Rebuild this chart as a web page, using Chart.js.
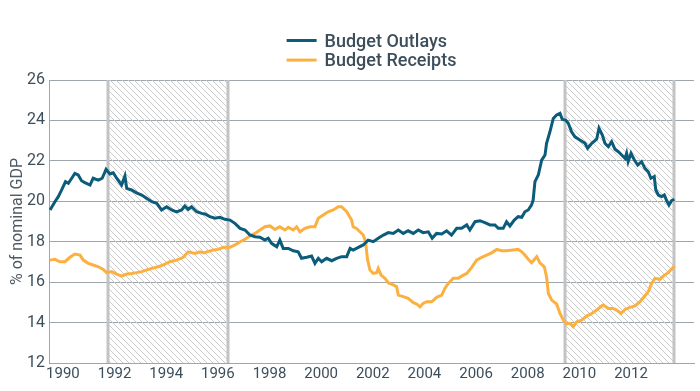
<!DOCTYPE html>
<html><head><meta charset="utf-8">
<script src="https://cdn.jsdelivr.net/npm/chart.js@4.4.1/dist/chart.umd.min.js"></script>
<style>html,body{margin:0;padding:0;background:#fff;}canvas{display:block;}</style>
</head><body>
<canvas id="c" width="700" height="391"></canvas>
<script>
// ---- data (decimal years, % of nominal GDP) ----
const seriesNames = ['Budget Outlays', 'Budget Receipts'];

const outlaysX = [1989.50,1989.69,1989.82,1989.95,1990.10,1990.21,1990.34,1990.46,1990.59,1990.72,1990.85,1991.05,1991.17,1991.37,1991.52,1991.67,1991.82,1991.95,1992.08,1992.27,1992.40,1992.47,1992.66,1992.85,1993.05,1993.24,1993.44,1993.63,1993.82,1994.02,1994.21,1994.40,1994.60,1994.72,1994.85,1994.98,1995.18,1995.37,
 1995.50,1995.69,1995.89,1996.08,1996.27,1996.47,1996.66,1996.86,1997.05,1997.24,1997.44,1997.63,1997.82,1997.95,1998.08,1998.28,1998.40,1998.53,1998.73,1998.92,1999.11,1999.24,1999.44,1999.63,1999.76,1999.89,2000.02,2000.21,2000.41,2000.60,2000.79,2000.99,2001.12,2001.24,2001.44,
 2001.63,2001.82,2002.02,2002.21,2002.41,2002.60,2002.79,2002.99,2003.18,2003.37,2003.57,2003.76,2003.95,2004.15,2004.30,2004.47,2004.67,2004.86,2005.05,2005.25,2005.44,2005.64,2005.76,2005.96,2006.15,2006.34,2006.54,2006.73,2006.86,2007.05,2007.18,2007.31,2007.48,
 2007.63,2007.77,2007.89,2008.02,2008.15,2008.21,2008.28,2008.41,2008.54,2008.67,2008.73,2008.86,2008.99,2009.12,2009.25,2009.34,2009.47,2009.57,2009.70,2009.83,2010.02,2010.22,2010.32,2010.48,2010.67,2010.76,2010.89,
 2010.99,2011.12,2011.25,2011.38,2011.51,2011.64,2011.77,2011.83,2011.89,2012.00,2012.13,2012.26,2012.41,2012.54,2012.67,2012.77,2012.90,2012.96,2013.06,2013.19,2013.29,2013.38,2013.47,2013.57,2013.68];
const outlaysY = [19.57,19.98,20.23,20.56,20.97,20.89,21.14,21.38,21.30,21.02,20.92,20.80,21.14,21.05,21.14,21.58,21.35,21.41,21.14,20.80,21.25,20.64,20.56,20.42,20.31,20.15,19.98,19.90,19.57,19.73,19.57,19.48,19.57,19.77,19.60,19.73,19.48,19.40,
 19.37,19.24,19.16,19.21,19.11,19.07,18.91,18.66,18.58,18.33,18.25,18.22,18.08,18.17,17.92,17.75,18.08,17.67,17.67,17.55,17.50,17.18,17.23,17.29,16.93,17.18,17.01,17.18,17.06,17.18,17.26,17.26,17.67,17.59,17.72,
 17.84,18.08,18.00,18.17,18.33,18.45,18.41,18.58,18.41,18.54,18.41,18.58,18.45,18.49,18.17,18.41,18.38,18.54,18.33,18.66,18.66,18.83,18.58,18.99,19.04,18.94,18.83,18.83,18.66,18.66,18.99,18.78,19.07,
 19.24,19.21,19.48,19.57,19.82,20.06,20.97,21.30,22.04,22.29,22.87,23.44,24.10,24.27,24.35,24.05,24.02,23.86,23.44,23.19,23.03,22.87,22.62,22.87,23.07,23.61,23.28,
 22.87,22.70,22.95,22.57,22.45,22.29,22.12,22.37,21.96,22.37,22.04,21.79,21.96,21.63,21.46,21.14,21.22,20.56,20.31,20.23,20.31,20.03,19.82,20.03,20.10];

const receiptsX = [1989.50,1989.69,1989.88,1990.08,1990.27,1990.46,1990.66,1990.79,1990.98,1991.17,1991.37,1991.56,1991.69,1991.89,1992.08,1992.27,1992.47,1992.66,1992.85,1993.05,1993.24,1993.44,1993.69,1993.89,1994.14,1994.40,1994.66,1994.85,1995.11,1995.31,1995.47,
 1995.57,1995.82,1996.01,1996.21,1996.47,1996.66,1996.86,1997.05,1997.24,1997.44,1997.63,1997.82,1998.02,1998.21,1998.40,1998.60,1998.73,1998.92,1999.05,1999.18,1999.37,1999.57,1999.76,1999.89,2000.08,2000.27,2000.47,2000.66,2000.79,2000.99,2001.18,2001.24,2001.37,
 2001.50,2001.63,2001.72,2001.80,2001.89,2002.02,2002.15,2002.21,2002.32,2002.47,2002.60,2002.79,2002.92,2002.99,2003.18,2003.37,2003.57,2003.70,2003.83,2003.95,2004.09,2004.28,2004.47,2004.67,2004.79,2004.92,2005.12,2005.31,2005.44,2005.64,2005.83,2006.02,2006.22,2006.41,2006.60,2006.80,2006.99,2007.18,
 2007.44,2007.63,2007.77,2007.89,2008.02,2008.15,2008.35,2008.47,2008.64,2008.73,2008.80,2008.93,2009.12,2009.25,2009.38,2009.51,2009.64,2009.76,2009.90,2010.09,2010.28,2010.48,2010.67,2010.86,
 2010.93,2011.12,2011.31,2011.44,2011.61,2011.77,2011.96,2012.15,2012.35,2012.51,2012.67,2012.80,2012.93,2013.12,2013.25,2013.44,2013.60,2013.68];
const receiptsY = [17.09,17.13,17.01,17.01,17.23,17.39,17.34,17.09,16.93,16.85,16.76,16.63,16.47,16.52,16.40,16.30,16.40,16.43,16.47,16.52,16.60,16.68,16.76,16.85,17.01,17.09,17.23,17.50,17.42,17.50,17.45,
 17.50,17.59,17.62,17.72,17.72,17.84,18.00,18.12,18.28,18.41,18.58,18.74,18.78,18.61,18.74,18.58,18.71,18.58,18.74,18.49,18.66,18.74,18.74,19.16,19.32,19.48,19.57,19.73,19.73,19.48,19.07,18.74,18.66,
 18.49,18.33,18.00,17.09,16.60,16.43,16.47,16.68,16.35,16.19,15.97,15.86,15.78,15.36,15.28,15.20,14.98,14.92,14.78,14.95,15.03,15.03,15.25,15.36,15.69,15.94,16.19,16.19,16.30,16.43,16.73,17.09,17.23,17.34,17.45,17.62,17.55,17.55,
 17.59,17.62,17.50,17.34,17.13,16.96,17.26,16.96,16.76,16.27,15.44,15.11,14.92,14.45,14.12,13.93,13.96,13.80,14.04,14.12,14.32,14.45,14.62,14.82,
 14.87,14.70,14.70,14.62,14.45,14.65,14.75,14.82,15.03,15.28,15.53,15.94,16.19,16.14,16.30,16.47,16.68,16.80];

const xTickYears = [1990,1992,1994,1996,1998,2000,2002,2004,2006,2008,2010,2012];
const yTickValues = [12,14,16,18,20,22,24,26];
const shadeStart = [1991.74, 2009.44];
const shadeEnd   = [1996.39, 2013.66];
const xRange = [1989.46, 2014.44];
const yRange = [12, 26];
const yTitle = '% of nominal GDP';

// ---- styles ----
const COL_OUT = '#0b5b7b';
const COL_REC = '#fbb040';
const TEXT = '#3d4e5b';
const GRID = '#9ea6ae';
const FONT = 'Roboto';

function pts(xs, ys){ return xs.map((x,i)=>({x:x, y:ys[i]})); }

function hatchPattern(ctx){
  const s = 6;
  const c = document.createElement('canvas'); c.width = s; c.height = s;
  const g = c.getContext('2d');
  g.fillStyle = '#cbcbcb';
  for (let i=0;i<s;i++) g.fillRect(i,i,1,1);
  return ctx.createPattern(c,'repeat');
}

const shadePlugin = {
  id:'shade',
  beforeDatasetsDraw(chart){
    const {ctx, chartArea:ca, scales:{x}} = chart;
    ctx.save();
    const pat = hatchPattern(ctx);
    shadeStart.forEach((s,i)=>{
      const x0 = x.getPixelForValue(s), x1 = x.getPixelForValue(shadeEnd[i]);
      ctx.fillStyle = pat;
      ctx.fillRect(x0, ca.top, x1-x0, ca.bottom-ca.top);
      ctx.fillStyle = '#c3c3c3';
      ctx.fillRect(Math.round(x0)-1.5, ca.top, 3, ca.bottom-ca.top);
      ctx.fillRect(Math.round(x1)-1.5, ca.top, 3, ca.bottom-ca.top);
    });
    ctx.restore();
  }
};

const legendPlugin = {
  id:'stackLegend',
  afterDraw(chart){
    const {ctx, chartArea:ca} = chart;
    ctx.save();
    ctx.font = '500 18px ' + FONT;
    const ds = chart.data.datasets;
    const wMax = Math.max(...ds.map(d=>ctx.measureText(d.label).width));
    const lineW = 30, gap = 8;
    const x0 = (ca.left+ca.right)/2 - (lineW+gap+wMax)/2;
    ds.forEach((d,i)=>{
      const yc = 40.5 + i*19.6;
      ctx.strokeStyle = d.borderColor; ctx.lineWidth = 3;
      ctx.beginPath(); ctx.moveTo(x0, yc); ctx.lineTo(x0+lineW, yc); ctx.stroke();
      ctx.fillStyle = TEXT; ctx.textBaseline = 'alphabetic'; ctx.textAlign = 'left';
      ctx.fillText(d.label, x0+lineW+gap, yc+6.3);
    });
    ctx.restore();
  }
};

new Chart(document.getElementById('c'), {
  type:'line',
  data:{ datasets:[
    {label:seriesNames[0], data:pts(outlaysX,outlaysY), borderColor:COL_OUT, borderWidth:3, pointRadius:0, tension:0, fill:false},
    {label:seriesNames[1], data:pts(receiptsX,receiptsY), borderColor:COL_REC, borderWidth:3, pointRadius:0, tension:0, fill:false}
  ]},
  options:{
    responsive:false, devicePixelRatio:1, animation:false,
    layout:{padding:{top:80, right:6, left:0, bottom:0}},
    plugins:{legend:{display:false}, tooltip:{enabled:false}},
    scales:{
      x:{type:'linear', min:xRange[0], max:xRange[1],
        afterBuildTicks(a){ a.ticks = xTickYears.map(v=>({value:v})); },
        afterFit(a){ a.height = 28; },
        grid:{display:false, drawTicks:false},
        border:{display:true, color:GRID, width:1},
        ticks:{color:TEXT, font:{family:FONT, size:15}, padding:2, maxRotation:0, autoSkip:false, callback:v=>String(v)}
      },
      y:{min:yRange[0], max:yRange[1],
        afterBuildTicks(a){ a.ticks = yTickValues.map(v=>({value:v})); },
        afterFit(a){ a.width = 49; },
        grid:{color:GRID, lineWidth:1, drawTicks:false},
        border:{display:true, color:GRID, width:1},
        ticks:{color:TEXT, font:{family:FONT, size:16}, padding:4, callback:v=>String(v)},
        title:{display:true, text:yTitle, color:'#4f5a64', font:{family:FONT, size:16}, padding:{top:8,bottom:0}}
      }
    }
  },
  plugins:[shadePlugin, legendPlugin]
});
</script>
</body></html>
